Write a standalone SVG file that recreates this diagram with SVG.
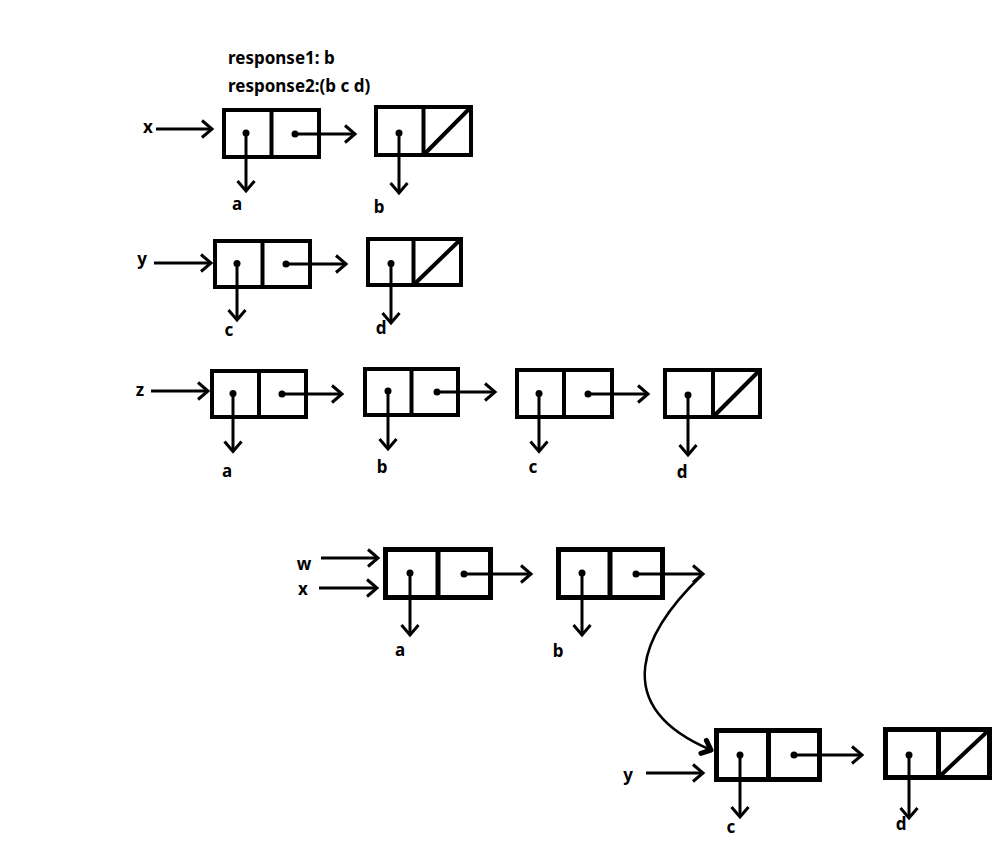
<svg xmlns="http://www.w3.org/2000/svg" width="999" height="868" viewBox="0 0 999 868">
  <style>
    .cell { fill: none; stroke: #000; stroke-width: 4; }
    .cell5 { fill: none; stroke: #000; stroke-width: 5; }
    .div { stroke: #000; stroke-width: 4; }
    .div5 { stroke: #000; stroke-width: 5; }
    .nil { stroke: #000; stroke-width: 4; }
    .ptr { fill: none; stroke: #000; stroke-width: 3; marker-end: url(#ah); }
    .dot { fill: #000; }
    .lbl { font-family: "Noto Sans", "Liberation Sans", sans-serif; font-weight: bold; font-size: 17px; fill: #000; text-anchor: middle; }
    .hdr { font-family: "Noto Sans", "Liberation Sans", sans-serif; font-weight: bold; font-size: 17px; fill: #000; }
  </style>
  <defs>
    <marker id="ah" markerUnits="userSpaceOnUse" markerWidth="24" markerHeight="24" viewBox="-12 -12 24 24" refX="0" refY="0" orient="auto" overflow="visible">
      <path d="M-10,-8.5 L0,0 L-10,8.5" fill="none" stroke="#000" stroke-width="3"/>
    </marker>
    <marker id="ahc" markerUnits="userSpaceOnUse" markerWidth="24" markerHeight="24" viewBox="-12 -12 24 24" refX="0" refY="0" orient="auto" overflow="visible">
      <path d="M-8,-7 L0,0 L-8,7" fill="none" stroke="#000" stroke-width="5" stroke-linecap="round" stroke-linejoin="round"/>
    </marker>
  </defs>

  <rect width="999" height="868" fill="#fff"/>

  <!-- header -->
  <text class="hdr" x="228" y="64">response1: b</text>
  <text class="hdr" x="228" y="92">response2:(b c d)</text>

  <!-- variable labels and value labels -->
  <g id="labels">
    <text class="lbl" x="148" y="133">x</text>
    <text class="lbl" x="237" y="210">a</text>
    <text class="lbl" x="379" y="213">b</text>

    <text class="lbl" x="142" y="265">y</text>
    <text class="lbl" x="229" y="336">c</text>
    <text class="lbl" x="381" y="334">d</text>

    <text class="lbl" x="140" y="396">z</text>
    <text class="lbl" x="227" y="477">a</text>
    <text class="lbl" x="382" y="473">b</text>
    <text class="lbl" x="533" y="473">c</text>
    <text class="lbl" x="682" y="478">d</text>

    <text class="lbl" x="304" y="570">w</text>
    <text class="lbl" x="303" y="595">x</text>
    <text class="lbl" x="400" y="656">a</text>
    <text class="lbl" x="558" y="657">b</text>

    <text class="lbl" x="628" y="781">y</text>
    <text class="lbl" x="731" y="833">c</text>
    <text class="lbl" x="901" y="830">d</text>
  </g>

  <!-- cons cells -->
  <g id="x1">
    <rect class="cell" x="224" y="110" width="95" height="47"/>
    <line class="div" x1="271.5" y1="110" x2="271.5" y2="157"/>
    <circle class="dot" cx="246" cy="133" r="3.5"/>
    <circle class="dot" cx="295" cy="134" r="3.5"/>
  </g>
  <g id="x2">
    <rect class="cell" x="376" y="107" width="95" height="48"/>
    <line class="div" x1="423.5" y1="107" x2="423.5" y2="155"/>
    <line class="nil" x1="423.5" y1="155" x2="471" y2="107"/>
    <circle class="dot" cx="399" cy="133" r="3.5"/>
  </g>

  <g id="y1">
    <rect class="cell" x="215" y="241" width="95" height="46"/>
    <line class="div" x1="262.5" y1="241" x2="262.5" y2="287"/>
    <circle class="dot" cx="237" cy="263.5" r="3.5"/>
    <circle class="dot" cx="286" cy="264" r="3.5"/>
  </g>
  <g id="y2">
    <rect class="cell" x="368" y="239" width="93" height="46"/>
    <line class="div" x1="413.5" y1="239" x2="413.5" y2="285"/>
    <line class="nil" x1="413.5" y1="285" x2="461" y2="239"/>
    <circle class="dot" cx="391" cy="263.5" r="3.5"/>
  </g>

  <g id="z1">
    <rect class="cell" x="212" y="371" width="94" height="46"/>
    <line class="div" x1="259" y1="371" x2="259" y2="417"/>
    <circle class="dot" cx="233" cy="393.5" r="3.5"/>
    <circle class="dot" cx="282" cy="394" r="3.5"/>
  </g>
  <g id="z2">
    <rect class="cell" x="365" y="369" width="93" height="46"/>
    <line class="div" x1="411.5" y1="369" x2="411.5" y2="415"/>
    <circle class="dot" cx="388" cy="391" r="3.5"/>
    <circle class="dot" cx="437" cy="392" r="3.5"/>
  </g>
  <g id="z3">
    <rect class="cell" x="517" y="370" width="95" height="47"/>
    <line class="div" x1="564" y1="370" x2="564" y2="417"/>
    <circle class="dot" cx="539" cy="393.5" r="3.5"/>
    <circle class="dot" cx="588" cy="394" r="3.5"/>
  </g>
  <g id="z4">
    <rect class="cell" x="665" y="370" width="95" height="47"/>
    <line class="div" x1="713" y1="370" x2="713" y2="417"/>
    <line class="nil" x1="713" y1="417" x2="760" y2="370"/>
    <circle class="dot" cx="688" cy="395" r="3.5"/>
  </g>

  <g id="w1">
    <rect class="cell5" x="385.5" y="549.5" width="105" height="48"/>
    <line class="div5" x1="438" y1="549.5" x2="438" y2="597.5"/>
    <circle class="dot" cx="410" cy="573" r="3.5"/>
    <circle class="dot" cx="464" cy="574" r="3.5"/>
  </g>
  <g id="w2">
    <rect class="cell5" x="558.5" y="549.5" width="104" height="48"/>
    <line class="div5" x1="610" y1="549.5" x2="610" y2="597.5"/>
    <circle class="dot" cx="582" cy="573" r="3.5"/>
    <circle class="dot" cx="636" cy="574" r="3.5"/>
  </g>
  <g id="y3">
    <rect class="cell5" x="716.5" y="730.5" width="103" height="49"/>
    <line class="div5" x1="768.5" y1="730.5" x2="768.5" y2="779.5"/>
    <circle class="dot" cx="740" cy="755" r="3.5"/>
    <circle class="dot" cx="794" cy="755" r="3.5"/>
  </g>
  <g id="y4">
    <rect class="cell5" x="885.5" y="729.5" width="104" height="48"/>
    <line class="div5" x1="938.5" y1="729.5" x2="938.5" y2="777.5"/>
    <line class="nil" x1="938.5" y1="777.5" x2="989.5" y2="729.5"/>
    <circle class="dot" cx="909" cy="755" r="3.5"/>
  </g>

  <!-- pointers -->
  <g id="connectors">
    <line class="ptr" x1="156" y1="129" x2="212" y2="129"/>
    <line class="ptr" x1="246" y1="133" x2="246" y2="191"/>
    <line class="ptr" x1="295" y1="134" x2="355" y2="134"/>
    <line class="ptr" x1="399" y1="133" x2="399" y2="193"/>

    <line class="ptr" x1="154" y1="263" x2="211" y2="263"/>
    <line class="ptr" x1="237" y1="263.5" x2="237" y2="320"/>
    <line class="ptr" x1="286" y1="264" x2="346" y2="264"/>
    <line class="ptr" x1="391" y1="263.5" x2="391" y2="323"/>

    <line class="ptr" x1="151" y1="391" x2="208" y2="391"/>
    <line class="ptr" x1="233" y1="393.5" x2="233" y2="451.5"/>
    <line class="ptr" x1="282" y1="394" x2="342" y2="394"/>
    <line class="ptr" x1="388" y1="391" x2="388" y2="449"/>
    <line class="ptr" x1="437" y1="392" x2="495" y2="392"/>
    <line class="ptr" x1="539" y1="393.5" x2="539" y2="451.5"/>
    <line class="ptr" x1="588" y1="394" x2="648" y2="394"/>
    <line class="ptr" x1="688" y1="395" x2="688" y2="455"/>

    <line class="ptr" x1="321" y1="558" x2="378" y2="558"/>
    <line class="ptr" x1="319" y1="588" x2="377" y2="588"/>
    <line class="ptr" x1="410" y1="573" x2="410" y2="635"/>
    <line class="ptr" x1="464" y1="574" x2="531" y2="574"/>
    <line class="ptr" x1="582" y1="573" x2="582" y2="635"/>
    <line class="ptr" x1="636" y1="574" x2="703" y2="574"/>

    <path d="M701,576 C645,630 605,705 711,750" fill="none" stroke="#000" stroke-width="2.5" marker-end="url(#ahc)"/>

    <line class="ptr" x1="646" y1="773" x2="703" y2="773"/>
    <line class="ptr" x1="740" y1="755" x2="740" y2="817"/>
    <line class="ptr" x1="794" y1="755" x2="862" y2="755"/>
    <line class="ptr" x1="909" y1="755" x2="909" y2="818"/>
  </g>
</svg>
